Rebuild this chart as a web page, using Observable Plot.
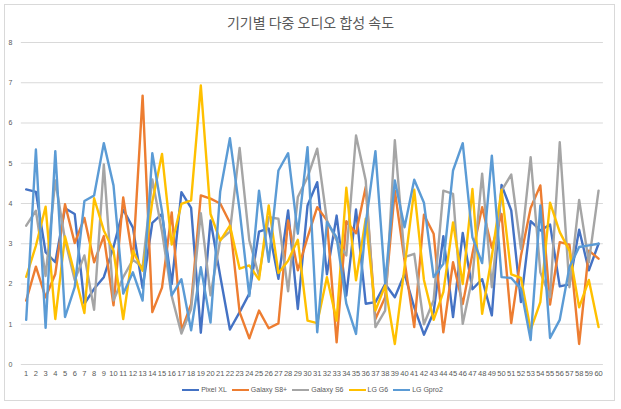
<!DOCTYPE html>
<html>
<head>
<meta charset="utf-8">
<script src="https://cdn.jsdelivr.net/npm/d3@7"></script>
<script src="https://cdn.jsdelivr.net/npm/@observablehq/plot@0.6"></script>
<style>
  html, body { margin: 0; padding: 0; background: #fff; }
  #wrap { position: relative; width: 621px; height: 409px; overflow: hidden; font-family: "Liberation Sans", "Noto Sans CJK KR", sans-serif; }
  #frame { position: absolute; left: 4px; top: 4px; width: 611px; height: 397px; border: 1px solid #d9d9d9; box-sizing: border-box; }
  #title { position: absolute; left: 0; width: 621px; top: 12px; text-align: center; font-family: "Noto Sans CJK KR", sans-serif; font-size: 14px; color: #595959; line-height: 20px; }
  #chart { position: absolute; left: 0; top: 30px; }
  #legend { position: absolute; left: 0; width: 621px; top: 383px; display: flex; justify-content: center; gap: 5px; font-size: 7px; color: #595959; line-height: 14px; padding-left: 4px; box-sizing: border-box; }
  .item { display: flex; align-items: center; gap: 2px; }
  .sw { width: 17px; height: 2.5px; display: inline-block; }
</style>
</head>
<body>
<div id="wrap">
  <div id="frame"></div>
  <div id="title">기기별 다중 오디오 합성 속도</div>
  <div id="chart"></div>
  <div id="legend"></div>
</div>
<script>
const categories = d3.range(1, 61);
const seriesNames = ["Pixel XL", "Galaxy S8+", "Galaxy S6", "LG G6", "LG Gpro2"];
const seriesColors = ["#4472C4", "#ED7D31", "#A5A5A5", "#FFC000", "#5B9BD5"];
const yTicks = [0, 1, 2, 3, 4, 5, 6, 7, 8];

const pixelXL = [4.35,4.29,2.79,2.54,3.88,3.74,1.51,1.88,2.17,2.92,
                 3.85,3.4,1.9,3.52,3.74,2.0,4.28,3.89,0.79,3.58,
                 2.2,0.87,1.3,1.76,3.3,3.38,2.13,3.83,1.38,3.95,
                 4.53,2.24,3.7,1.71,3.85,1.51,1.55,2.0,1.67,2.25,
                 1.42,0.74,1.3,3.19,1.18,3.27,1.87,2.12,1.22,4.46,
                 3.83,1.55,3.56,3.33,3.48,1.94,1.99,3.35,2.34,3.0];
const galaxyS8 = [1.59,2.43,1.67,2.25,3.98,3.02,3.64,2.54,3.19,1.47,
                  4.15,2.6,6.68,1.3,1.91,3.78,0.84,1.5,4.2,4.12,
                  4.0,3.52,1.3,0.65,1.34,0.9,1.02,3.58,2.34,3.16,
                  3.91,3.58,0.55,3.56,3.26,4.41,1.13,1.67,4.32,2.58,
                  0.93,3.72,3.25,0.8,2.54,1.5,2.75,3.91,2.9,3.74,
                  1.03,2.7,3.89,4.45,1.49,3.04,2.98,0.51,2.83,2.63];
const galaxyS6 = [3.45,3.82,2.2,4.57,3.1,2.1,2.71,1.36,4.97,1.59,
                  2.17,2.6,2.42,4.6,3.3,1.7,0.77,1.38,3.76,1.72,
                  3.1,3.3,5.38,3.08,2.2,3.66,3.62,1.82,4.16,4.65,
                  5.36,3.58,3.08,2.71,5.69,4.57,0.93,1.34,5.57,2.67,
                  2.75,1.0,1.6,4.32,4.24,1.01,2.17,4.74,1.92,4.32,
                  4.72,2.87,5.15,2.29,1.67,5.52,1.92,4.09,2.54,4.32];
const lgG6 = [2.18,2.95,3.92,1.13,3.18,2.25,1.28,4.13,3.33,2.83,
              1.13,2.83,2.33,4.05,5.23,2.98,3.99,4.08,6.93,3.74,
              3.08,3.45,2.38,2.46,2.11,3.95,2.27,2.58,3.1,1.09,
              1.03,2.17,1.09,4.39,2.09,3.62,1.34,1.96,0.51,2.42,
              4.34,2.1,1.11,1.8,3.53,2.0,4.36,1.26,2.69,4.34,
              2.24,2.15,0.86,1.55,4.02,3.29,2.83,1.42,2.1,0.93];
const lgGpro2 = [1.11,5.34,0.91,5.3,1.18,1.92,4.06,4.2,5.5,4.45,
                 1.76,2.29,1.59,5.25,3.8,1.72,2.12,0.85,2.42,1.04,
                 4.3,5.62,3.83,1.7,4.32,2.55,4.82,5.25,3.25,5.4,
                 0.8,3.54,3.16,1.51,0.76,3.49,5.3,2.02,4.57,3.41,
                 4.59,4.02,2.17,2.5,4.82,5.5,3.16,2.52,5.19,2.17,
                 2.15,1.88,0.61,3.95,0.66,1.11,2.42,2.92,2.96,3.0];

const seriesValues = [pixelXL, galaxyS8, galaxyS6, lgG6, lgGpro2];
const rows = [];
seriesNames.forEach((name, s) => {
  categories.forEach((c, i) => rows.push({ series: name, x: c, y: seriesValues[s][i] }));
});

const chart = Plot.plot({
  width: 621,
  height: 355,
  marginTop: 12,
  marginBottom: 21,
  marginLeft: 20.85,
  marginRight: 18.1,
  style: { fontFamily: "'Liberation Sans', sans-serif", fontSize: "7.5px", color: "#595959", background: "transparent" },
  x: { domain: [0.5, 60.5] },
  y: { domain: [0, 8] },
  color: { domain: seriesNames, range: seriesColors },
  marks: [
    Plot.gridY(yTicks, { stroke: "#d9d9d9", strokeOpacity: 1, strokeWidth: 1 }),
    Plot.axisY(yTicks, { tickSize: 0, tickPadding: 9, label: null, fill: "#595959", fontSize: 7 }),
    Plot.axisX(categories, { tickSize: 0, tickPadding: 6, label: null, fill: "#595959", tickFormat: d => String(d) }),
    Plot.line(rows, { x: "x", y: "y", z: "series", stroke: "series", strokeWidth: 2.4, strokeLinejoin: "round", strokeLinecap: "round" })
  ]
});
document.getElementById("chart").appendChild(chart);

const legend = document.getElementById("legend");
seriesNames.forEach((name, i) => {
  const item = document.createElement("div");
  item.className = "item";
  const sw = document.createElement("span");
  sw.className = "sw";
  sw.style.background = seriesColors[i];
  const t = document.createElement("span");
  t.textContent = name;
  item.appendChild(sw);
  item.appendChild(t);
  legend.appendChild(item);
});
</script>
</body>
</html>
